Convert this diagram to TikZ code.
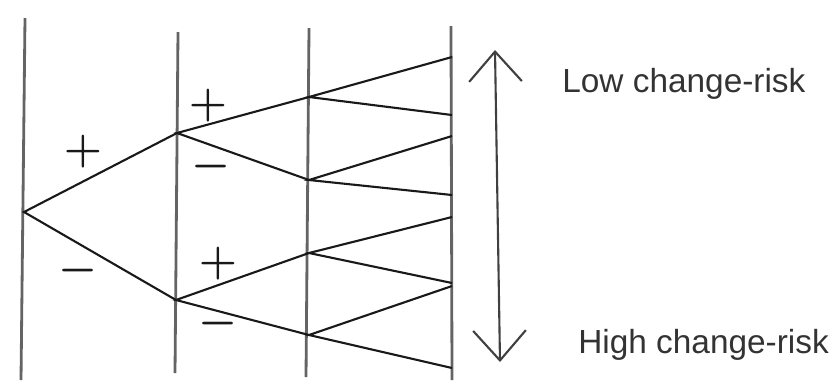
\documentclass[tikz,border=0pt]{standalone}
\usepackage{fontspec}
\setmainfont{Liberation Sans}
\usetikzlibrary{arrows.meta}
\definecolor{railGray}{RGB}{100,100,100}
\definecolor{inkGray}{RGB}{25,25,25}

\begin{document}
\begin{tikzpicture}[x=0.02cm, y=-0.02cm,
  rail/.style={line width=1.6pt, railGray},
  branch/.style={line width=1.2pt, inkGray},
  sign/.style={font=\fontsize{28}{30}\selectfont\boldmath, inner sep=0pt, text=inkGray},
  risk/.style={font=\fontsize{19}{22}\selectfont, anchor=base west, inner sep=0pt, text=black!80}]
\useasboundingbox (0,0) rectangle (830,380);
% stage rails
\draw[rail] (25,18) -- (21,380);
\draw[rail] (178,32) -- (175,373);
\draw[rail] (309,28) -- (306,377);
\draw[rail] (451,26) -- (452,380);
% tree of outcomes
\coordinate (root) at (24,212);
\coordinate (up) at (177,133);
\coordinate (dn) at (176,300);
\foreach \n/\y in {1/97, 2/180, 3/253, 4/335}
  \coordinate (c\n) at (309,\y);
\foreach \n/\y in {1/57, 2/115, 3/136, 4/195, 5/217, 6/283, 7/286, 8/368}
  \coordinate (e\n) at (452,\y);
\draw[branch] (up) -- (root) -- (dn);
\draw[branch] (c1) -- (up) -- (c2);
\draw[branch] (c3) -- (dn) -- (c4);
\foreach \c/\a/\b in {c1/e1/e2, c2/e3/e4, c3/e5/e6, c4/e7/e8}
  \draw[branch] (\a) -- (\c) -- (\b);
% signs
\node[sign] (p1) at (83,152) {$+$};
\node[sign] (m1) at (78,271) {$-$};
\node[sign] (p2) at (208,106) {$+$};
\node[sign] (m2) at (211,167) {$-$};
\node[sign] (p3) at (218,264) {$+$};
\node[sign] (m3) at (218,324) {$-$};
% risk scale
\coordinate (low) at (495,50);
\coordinate (high) at (500,362);
\draw[line width=1.2pt, black!75, {Straight Barb[length=17pt, width=30pt]}-{Straight Barb[length=17pt, width=30pt]}] (low) -- (high);
\node[risk] (lowrisk) at (562,92) {Low change-risk};
\node[risk] (highrisk) at (578,353) {High change-risk};
\end{tikzpicture}
\end{document}
